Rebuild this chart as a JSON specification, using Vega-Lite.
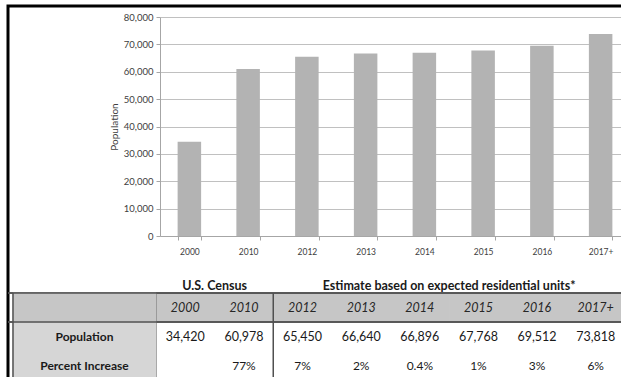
{
  "$schema": "https://vega.github.io/schema/vega-lite/v6.json",
  "width": 633,
  "height": 391,
  "autosize": "none",
  "padding": {"left": 8, "top": 6, "right": -20, "bottom": -20},
  "config": {
    "view": {"stroke": "#000000", "strokeWidth": 3},
    "font": "Lato",
    "text": {"font": "Lato"}
  },
  "datasets": {
    "pop": [
      {"year": "2000", "population": 34420, "increase": null},
      {"year": "2010", "population": 60978, "increase": 0.77},
      {"year": "2012", "population": 65450, "increase": 0.07},
      {"year": "2013", "population": 66640, "increase": 0.02},
      {"year": "2014", "population": 66896, "increase": 0.004},
      {"year": "2015", "population": 67768, "increase": 0.01},
      {"year": "2016", "population": 69512, "increase": 0.03},
      {"year": "2017+", "population": 73818, "increase": 0.06}
    ],
    "groups": [
      {"group": "U.S. Census", "centerBoundary": "2010"},
      {"group": "Estimate based on expected residential units*", "centerBoundary": "2015"}
    ],
    "rows": [
      {"row": "header"},
      {"row": "Population"},
      {"row": "Percent Increase"}
    ],
    "sections": [
      {"sectionStart": "2000"},
      {"sectionStart": "2012"}
    ]
  },
  "layer": [
    {
      "data": {"name": "pop"},
      "mark": {"type": "bar", "color": "#b3b3b3"},
      "encoding": {
        "x": {
          "field": "year", "type": "ordinal", "sort": null,
          "scale": {"type": "band", "domain": ["2000","2010","2012","2013","2014","2015","2016","2017+"], "range": [152, 622], "paddingInner": 0.6, "paddingOuter": 0.3},
          "axis": {"title": null, "orient": "bottom", "offset": -161, "labelAngle": 0, "tickBand": "extent", "tickSize": 4, "tickColor": "#a6a6a6", "domainColor": "#a6a6a6", "labelFontSize": 8.5, "labelColor": "#404040", "labelPadding": 7, "grid": false}
        },
        "y": {
          "field": "population", "type": "quantitative",
          "scale": {"domain": [0, 80000], "range": [230, 11], "nice": false},
          "axis": {"title": "Population", "offset": -152, "values": [0,10000,20000,30000,40000,50000,60000,70000,80000], "format": ",d", "tickSize": 4, "tickColor": "#a6a6a6", "domainColor": "#a6a6a6", "grid": true, "gridColor": "#c0c0c0", "labelFontSize": 9.5, "labelColor": "#404040", "labelPadding": 3, "titleFontSize": 10, "titleFontWeight": "normal", "titleColor": "#404040", "titlePadding": 4}
        }
      }
    },
    {
      "layer": [
        {
          "data": {"name": "pop"},
          "mark": {"type": "rect", "fill": "#c6c6c6", "stroke": "#c6c6c6", "strokeWidth": 1},
          "encoding": {
            "x": {"field": "year", "type": "ordinal", "sort": null, "scale": {"type": "band", "domain": ["2000","2010","2012","2013","2014","2015","2016","2017+"], "range": [148, 617], "paddingInner": 0, "paddingOuter": 0}, "axis": null},
            "y": {"datum": "header", "type": "ordinal", "scale": {"type": "band", "domain": ["group","header","Population","Percent Increase","end"], "range": [258, 403], "paddingInner": 0, "paddingOuter": 0}, "axis": null}
          }
        },
        {
          "data": {"name": "sections"},
          "mark": {"type": "rule", "color": "#505050", "strokeWidth": 1.5},
          "encoding": {
            "x": {"field": "sectionStart", "type": "ordinal", "bandPosition": 0, "scale": {"type": "band", "domain": ["2000","2010","2012","2013","2014","2015","2016","2017+"], "range": [148, 617], "paddingInner": 0, "paddingOuter": 0}, "axis": null},
            "y": {"datum": "header", "type": "ordinal", "bandPosition": 0, "scale": {"type": "band", "domain": ["group","header","Population","Percent Increase","end"], "range": [258, 403], "paddingInner": 0, "paddingOuter": 0}, "axis": null},
            "y2": {"datum": "end"}
          }
        },
        {
          "data": {"values": [{"row": "header"}, {"row": "Population"}]},
          "mark": {"type": "rule", "color": "#505050", "strokeWidth": 1.5},
          "encoding": {
            "y": {"field": "row", "type": "ordinal", "bandPosition": 0, "scale": {"type": "band", "domain": ["group","header","Population","Percent Increase","end"], "range": [258, 403], "paddingInner": 0, "paddingOuter": 0}, "axis": null}
          }
        },
        {
          "data": {"name": "pop"},
          "mark": {"type": "text", "fontStyle": "italic", "fontSize": 12.5, "color": "#262626"},
          "encoding": {
            "x": {"field": "year", "type": "ordinal", "sort": null, "scale": {"type": "band", "domain": ["2000","2010","2012","2013","2014","2015","2016","2017+"], "range": [148, 617], "paddingInner": 0, "paddingOuter": 0}, "axis": null},
            "y": {"datum": "header", "type": "ordinal", "scale": {"type": "band", "domain": ["group","header","Population","Percent Increase","end"], "range": [258, 403], "paddingInner": 0, "paddingOuter": 0}, "axis": null},
            "text": {"field": "year"}
          }
        },
        {
          "data": {"name": "pop"},
          "mark": {"type": "text", "fontSize": 12.5, "color": "#1a1a1a"},
          "encoding": {
            "x": {"field": "year", "type": "ordinal", "sort": null, "scale": {"type": "band", "domain": ["2000","2010","2012","2013","2014","2015","2016","2017+"], "range": [148, 617], "paddingInner": 0, "paddingOuter": 0}, "axis": null},
            "y": {"datum": "Population", "type": "ordinal", "scale": {"type": "band", "domain": ["group","header","Population","Percent Increase","end"], "range": [258, 403], "paddingInner": 0, "paddingOuter": 0}, "axis": null},
            "text": {"field": "population", "type": "quantitative", "format": ","}
          }
        },
        {
          "data": {"name": "pop"},
          "transform": [{"filter": "datum.increase != null"}],
          "mark": {"type": "text", "fontSize": 12, "color": "#1a1a1a"},
          "encoding": {
            "x": {"field": "year", "type": "ordinal", "sort": null, "scale": {"type": "band", "domain": ["2000","2010","2012","2013","2014","2015","2016","2017+"], "range": [148, 617], "paddingInner": 0, "paddingOuter": 0}, "axis": null},
            "y": {"datum": "Percent Increase", "type": "ordinal", "scale": {"type": "band", "domain": ["group","header","Population","Percent Increase","end"], "range": [258, 403], "paddingInner": 0, "paddingOuter": 0}, "axis": null},
            "text": {"field": "increase", "type": "quantitative", "format": "~%"}
          }
        },
        {
          "data": {"name": "groups"},
          "mark": {"type": "text", "fontSize": 12.5, "fontWeight": "bold", "color": "#1a1a1a", "dy": 7},
          "encoding": {
            "x": {"field": "centerBoundary", "type": "ordinal", "bandPosition": 0, "scale": {"type": "band", "domain": ["2000","2010","2012","2013","2014","2015","2016","2017+"], "range": [148, 617], "paddingInner": 0, "paddingOuter": 0}, "axis": null},
            "y": {"datum": "group", "type": "ordinal", "scale": {"type": "band", "domain": ["group","header","Population","Percent Increase","end"], "range": [258, 403], "paddingInner": 0, "paddingOuter": 0}, "axis": null},
            "text": {"field": "group"}
          }
        }
      ]
    },
    {
      "layer": [
        {
          "data": {"name": "rows"},
          "mark": {"type": "rect", "strokeWidth": 1},
          "encoding": {
            "x": {"datum": "label", "type": "ordinal", "scale": {"type": "band", "domain": ["label"], "range": [5, 148], "paddingInner": 0, "paddingOuter": 0}, "axis": null},
            "y": {"field": "row", "type": "ordinal", "scale": {"type": "band", "domain": ["group","header","Population","Percent Increase","end"], "range": [258, 403], "paddingInner": 0, "paddingOuter": 0}, "axis": null},
            "fill": {"condition": {"test": "datum.row === 'header'", "value": "#c6c6c6"}, "value": "#d6d6d6"},
            "stroke": {"condition": {"test": "datum.row === 'header'", "value": "#c6c6c6"}, "value": "#d6d6d6"}
          }
        },
        {
          "data": {"values": [{"row": "header"}, {"row": "Population"}]},
          "mark": {"type": "rule", "color": "#505050", "strokeWidth": 1.5},
          "encoding": {
            "y": {"field": "row", "type": "ordinal", "bandPosition": 0, "scale": {"type": "band", "domain": ["group","header","Population","Percent Increase","end"], "range": [258, 403], "paddingInner": 0, "paddingOuter": 0}, "axis": null}
          }
        },
        {
          "data": {"values": [{"edge": "label"}]},
          "mark": {"type": "rule", "color": "#505050", "strokeWidth": 1.5},
          "encoding": {
            "x": {"field": "edge", "type": "ordinal", "bandPosition": 0, "scale": {"type": "band", "domain": ["label"], "range": [5, 148], "paddingInner": 0, "paddingOuter": 0}, "axis": null},
            "y": {"datum": "header", "type": "ordinal", "bandPosition": 0, "scale": {"type": "band", "domain": ["group","header","Population","Percent Increase","end"], "range": [258, 403], "paddingInner": 0, "paddingOuter": 0}, "axis": null},
            "y2": {"datum": "end"}
          }
        },
        {
          "data": {"name": "rows"},
          "transform": [{"filter": "datum.row !== 'header'"}],
          "mark": {"type": "text", "fontSize": 12, "fontWeight": "bold", "color": "#1a1a1a"},
          "encoding": {
            "x": {"datum": "label", "type": "ordinal", "scale": {"type": "band", "domain": ["label"], "range": [5, 148], "paddingInner": 0, "paddingOuter": 0}, "axis": null},
            "y": {"field": "row", "type": "ordinal", "scale": {"type": "band", "domain": ["group","header","Population","Percent Increase","end"], "range": [258, 403], "paddingInner": 0, "paddingOuter": 0}, "axis": null},
            "text": {"field": "row"}
          }
        }
      ]
    }
  ],
  "resolve": {"scale": {"x": "independent", "y": "independent"}, "axis": {"x": "independent", "y": "independent"}}
}
